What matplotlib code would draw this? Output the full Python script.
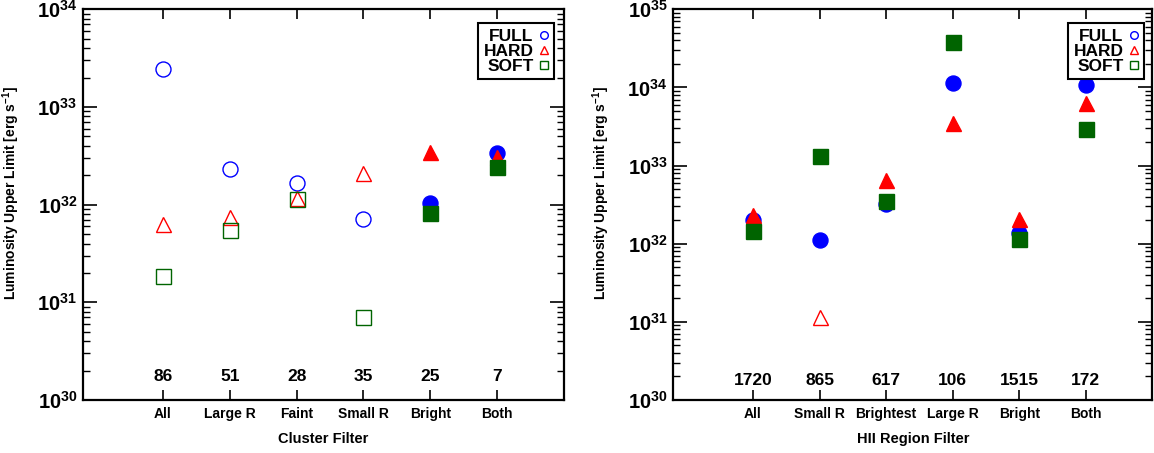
import numpy as np
import matplotlib
matplotlib.use('Agg')
from matplotlib import pyplot as plt
from matplotlib.lines import Line2D
from matplotlib.ticker import LogLocator, NullFormatter

plt.rcParams['font.family'] = 'Liberation Sans'
plt.rcParams['font.weight'] = 'bold'
plt.rcParams['axes.labelweight'] = 'bold'
plt.rcParams['mathtext.fontset'] = 'custom'
plt.rcParams['mathtext.rm'] = 'Liberation Sans:bold'
plt.rcParams['mathtext.it'] = 'Liberation Sans:bold'
plt.rcParams['mathtext.bf'] = 'Liberation Sans:bold'

# Cluster filter panel
left_cats = ['All', 'Large R', 'Faint', 'Small R', 'Bright', 'Both']
left_counts = [86, 51, 28, 35, 25, 7]
left_full = [2.42e33, 2.3e32, 1.68e32, 7.1e31, 1.05e32, 3.36e32]
left_hard = [6.3e31, 7.5e31, 1.17e32, 2.13e32, 3.49e32, 3.05e32]
left_soft = [1.88e31, 5.5e31, 1.15e32, 7.0e30, 8.2e31, 2.41e32]
left_full_filled = [False, False, False, False, True, True]
left_hard_filled = [False, False, False, False, True, True]
left_soft_filled = [False, False, False, False, True, True]

# HII region filter panel
right_cats = ['All', 'Small R', 'Brightest', 'Large R', 'Bright', 'Both']
right_counts = [1720, 865, 617, 106, 1515, 172]
right_full = [1.99e32, 1.12e32, 3.18e32, 1.15e34, 1.37e32, 1.07e34]
right_hard = [2.34e32, 1.16e31, 6.56e32, 3.47e33, 2.07e32, 6.3e33]
right_soft = [1.45e32, 1.32e33, 3.5e32, 3.87e34, 1.15e32, 2.91e33]
right_full_filled = [True, True, True, True, True, True]
right_hard_filled = [True, False, True, True, True, True]
right_soft_filled = [True, True, True, True, True, True]

BLUE, RED, GREEN = '#0000ff', '#ff0000', '#006400'
MS = 10.8


def draw_panel(ax, cats, counts, bands, ylim, count_y, xlabel, leg_anchor):
    x = np.arange(1, len(cats) + 1)
    for z, (vals, filled, col, mk) in enumerate(bands):
        for xi, v, f in zip(x, vals, filled):
            ax.plot(xi, v, marker=mk, ms=MS, mec=col, mfc=col if f else 'none',
                    mew=1.0, ls='none', zorder=3 + z)
    for xi, c in zip(x, counts):
        ax.text(xi, count_y, str(c), ha='center', va='center', fontsize=12.5)
    ax.set_yscale('log')
    ax.set_ylim(*ylim)
    ax.set_xlim(-0.2, 7)
    ax.set_xticks(x)
    ax.set_xticklabels(cats, fontsize=10)
    ax.yaxis.set_major_locator(LogLocator(base=10, numticks=10))
    ax.yaxis.set_minor_locator(LogLocator(base=10, subs=np.arange(2, 10), numticks=20))
    ax.yaxis.set_minor_formatter(NullFormatter())
    ax.tick_params(axis='x', which='major', direction='in', length=7, width=1.2,
                   top=True, pad=5)
    ax.tick_params(axis='y', which='major', direction='in', length=10, width=1.2,
                   right=True, labelsize=14.5, pad=4)
    ax.tick_params(axis='y', which='minor', direction='in', length=5, width=1.0,
                   right=True)
    for s in ax.spines.values():
        s.set_linewidth(1.6)
    ax.set_xlabel(xlabel, fontsize=10.5, labelpad=8)
    ax.set_ylabel(r'Luminosity Upper Limit [erg s$^{\mathregular{-1}}$]', fontsize=10)
    ax.yaxis.set_label_coords(-0.127, 0.53)

    handles = [Line2D([], [], marker=mk, ms=5.5, mec=col, mfc='none', mew=1.0, ls='none')
               for _, _, col, mk in bands]
    leg = ax.legend(handles, ['FULL', 'HARD', 'SOFT'], loc='upper right',
                    bbox_to_anchor=leg_anchor, markerfirst=False, fontsize=12.5,
                    labelspacing=0.0, handlelength=0.6, handletextpad=0.3,
                    borderpad=0.3, borderaxespad=0, fancybox=False, framealpha=1)
    leg.get_frame().set_edgecolor('black')
    leg.get_frame().set_linewidth(1.5)


fig = plt.figure(figsize=(11.54, 4.53), dpi=100)
ax1 = fig.add_axes([0.0717, 0.117, 0.417, 0.8625])
ax2 = fig.add_axes([0.5832, 0.117, 0.4155, 0.8625])

draw_panel(ax1, left_cats, left_counts,
           [(left_full, left_full_filled, BLUE, 'o'),
            (left_hard, left_hard_filled, RED, '^'),
            (left_soft, left_soft_filled, GREEN, 's')],
           (1e30, 1e34), 1.72e30, 'Cluster Filter', (0.980, 0.964))

draw_panel(ax2, right_cats, right_counts,
           [(right_full, right_full_filled, BLUE, 'o'),
            (right_hard, right_hard_filled, RED, '^'),
            (right_soft, right_soft_filled, GREEN, 's')],
           (1e30, 1e35), 1.8e30, 'HII Region Filter', (0.983, 0.964))

fig.savefig('out.png', dpi=100)
